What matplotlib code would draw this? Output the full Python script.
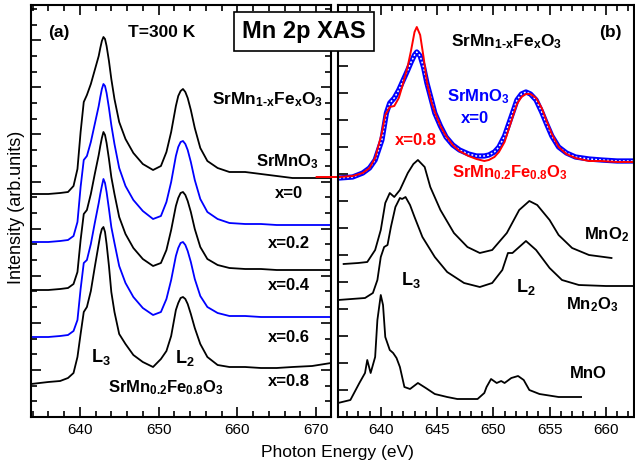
import matplotlib
matplotlib.use("Agg")
import matplotlib.pyplot as plt
from matplotlib.ticker import MultipleLocator

plt.rcParams["font.family"] = ["Liberation Sans", "DejaVu Sans"]
plt.rcParams["mathtext.fontset"] = "custom"
plt.rcParams["mathtext.rm"] = "Liberation Sans:bold"
plt.rcParams["mathtext.it"] = "Liberation Sans:bold"
plt.rcParams["mathtext.bf"] = "Liberation Sans:bold"

# ---- panel (a): SrMn1-xFexO3 series, common energy grid ----
energy_a = [633.8, 636.0, 637.5, 638.5, 639.2, 639.7, 640.1, 640.5, 640.9, 641.4,
            641.9, 642.4, 642.6, 642.8, 643.0, 643.2, 643.4, 643.7, 644.0, 644.4,
            645.0, 645.8, 646.8, 648.0, 649.3, 650.3, 651.0, 651.6, 652.2, 652.5,
            652.8, 653.1, 653.4, 653.7, 654.1, 654.6, 655.3, 656.2, 657.5, 659.0,
            661.0, 663.0, 665.0, 667.0, 669.5, 671.9]

x_labels = ["x=0", "x=0.2", "x=0.4", "x=0.6", "x=0.8"]
offsets_a = [223, 175, 127, 80, 33]
colors_a = ["black", "blue", "black", "blue", "black"]

spec_x00 = [0, 0, 1, 2, 8, 25, 62, 92, 99, 110, 124, 138, 146, 153, 157, 155, 148, 133, 115, 95,
            72, 55, 41, 30, 24, 28, 42, 62, 88, 98, 103, 105, 102, 96, 84, 66, 46, 33, 26, 22,
            22, 20, 18, 16, 16, 16]
spec_x02 = [0, 0, 1, 2, 6, 20, 55, 82, 86, 100, 118, 136, 145, 153, 158, 156, 149, 134, 117, 98,
            74, 56, 42, 31, 23, 26, 40, 60, 86, 95, 100, 101, 98, 92, 80, 62, 43, 30, 23, 19,
            18, 18, 17, 17, 17, 17]
spec_x04 = [0, 0, 1, 2, 6, 18, 50, 76, 80, 96, 116, 135, 144, 152, 158, 155, 147, 131, 113, 96,
            73, 56, 42, 31, 24, 27, 40, 60, 84, 92, 97, 98, 95, 89, 78, 61, 43, 31, 25, 22,
            21, 21, 20, 20, 20, 20]
spec_x06 = [0, 0, 1, 2, 6, 17, 48, 74, 77, 93, 114, 134, 143, 151, 158, 154, 145, 128, 110, 94,
            71, 54, 40, 29, 22, 25, 38, 57, 81, 89, 94, 95, 92, 86, 75, 58, 41, 30, 24, 21,
            21, 20, 20, 20, 20, 20]
spec_x08 = [0, 2, 3, 6, 11, 27, 50, 72, 77, 93, 117, 140, 149, 155, 157, 152, 140, 118, 92, 72,
            50, 40, 29, 22, 17, 25, 33, 48, 74, 81, 86, 87, 85, 80, 70, 56, 40, 27, 19, 17,
            17, 16, 16, 17, 18, 21]
spectra_a = [spec_x00, spec_x02, spec_x04, spec_x06, spec_x08]

# ---- panel (b): SrMnO3 vs x=0.8 and reference oxides ----
energy_smo = [636.3, 637.5, 638.4, 639.0, 639.5, 640.1, 640.5, 640.8, 641.2, 641.6, 642.0,
              642.4, 642.7, 643.0, 643.2, 643.5, 643.8, 644.1, 644.5, 644.8, 645.3, 645.8,
              646.4, 647.0, 647.8, 648.5, 649.2, 649.6, 650.1, 650.5, 651.0, 651.4, 651.8,
              652.1, 652.5, 652.9, 653.3, 653.8, 654.3, 654.7, 655.2, 655.8, 656.5, 657.3,
              658.5, 659.6, 661.0, 662.4]
spec_smo = [0, 1, 5, 10, 18, 38, 65, 75, 80, 88, 98, 108, 116, 123, 126, 122, 111, 95, 78, 65,
            52, 41, 33, 28, 24, 22, 22, 23, 26, 31, 42, 55, 68, 78, 84, 86, 84, 78, 66, 55,
            42, 31, 25, 21, 19, 18, 17, 17]

energy_x08 = [634.3, 636.3, 637.5, 638.4, 639.0, 639.5, 640.1, 640.4, 640.8, 641.2, 641.6,
              642.0, 642.4, 642.7, 643.0, 643.2, 643.5, 643.8, 644.1, 644.5, 644.8, 645.3,
              645.8, 646.4, 647.0, 647.8, 648.5, 649.2, 649.6, 650.1, 650.5, 651.0, 651.4,
              651.8, 652.1, 652.5, 652.9, 653.3, 653.8, 654.3, 654.7, 655.2, 655.8, 656.5,
              657.3, 658.5, 659.6, 661.0, 662.4]
spec_x08b = [1, 1, 2, 5, 10, 20, 45, 63, 71, 72, 80, 95, 112, 128, 146, 151, 143, 121, 96, 76,
             66, 52, 42, 33, 27, 22, 19, 17, 18, 21, 26, 36, 50, 64, 74, 81, 84, 84, 80, 70,
             58, 44, 31, 24, 20, 17, 17, 16, 16]

energy_mno2 = [636.7, 638.0, 638.8, 639.5, 640.0, 640.4, 640.8, 641.2, 641.7, 642.4, 642.9,
               643.3, 643.9, 644.4, 645.3, 646.5, 647.7, 648.8, 649.9, 651.2, 652.3, 653.2,
               653.9, 655.0, 655.8, 657.0, 658.5, 660.5]
spec_mno2 = [0, 1, 2, 14, 34, 61, 71, 67, 74, 91, 100, 104, 97, 77, 54, 31, 17, 11, 14, 31,
             54, 63, 59, 44, 29, 16, 9, 6]

energy_mn2o3 = [636.2, 638.6, 639.3, 639.7, 640.0, 640.3, 640.6, 640.9, 641.1, 641.3, 641.7,
                641.9, 642.2, 642.6, 643.0, 643.7, 644.8, 645.9, 647.4, 648.8, 649.9, 650.8,
                651.3, 651.7, 652.3, 652.9, 653.8, 655.0, 656.1, 657.6, 660.0, 662.5]
spec_mn2o3 = [0, 2, 7, 20, 43, 53, 55, 73, 83, 93, 102, 101, 103, 95, 83, 63, 43, 28, 17, 13,
              17, 30, 47, 47, 53, 59, 50, 32, 20, 15, 14, 14]

energy_mno = [636.2, 637.3, 638.1, 638.6, 638.8, 639.1, 639.5, 639.7, 640.0, 640.2, 640.4,
              640.8, 641.1, 641.4, 641.7, 642.1, 642.6, 643.3, 644.0, 644.8, 645.9, 646.8,
              648.6, 649.2, 649.4, 649.8, 650.3, 650.7, 651.0, 651.6, 652.2, 652.7, 653.2,
              654.1, 655.8, 657.8]
spec_mno = [0, 3, 20, 30, 43, 30, 46, 83, 108, 98, 66, 53, 50, 45, 36, 16, 14, 20, 15, 9, 6, 4,
            4, 10, 16, 24, 20, 22, 20, 25, 27, 23, 13, 9, 6, 6]

offset_top = 239
offsets_ref = [153, 117, 14]

fig = plt.figure(figsize=(6.35, 4.67), dpi=100)
ax1 = fig.add_axes([31 / 635, 50 / 467, 300 / 635, 412 / 467])
ax2 = fig.add_axes([338 / 635, 50 / 467, 296 / 635, 412 / 467])

# panel (a)
for spec, off, col in zip(spectra_a, offsets_a, colors_a):
    ax1.plot(energy_a, [v + off for v in spec], color=col, lw=1.3)

ax1.set_xlim(633.8, 671.9)
ax1.set_ylim(0, 412)
ax1.xaxis.set_major_locator(MultipleLocator(10))
ax1.xaxis.set_minor_locator(MultipleLocator(2))
ax1.yaxis.set_major_locator(MultipleLocator(47.1))
ax1.yaxis.set_minor_locator(MultipleLocator(15.7))
ax1.set_yticklabels([])
ax1.tick_params(which="both", direction="in", top=True, right=True, width=1.2, labelsize=11, pad=4)
ax1.tick_params(which="major", length=7)
ax1.tick_params(which="minor", length=4)

bold = dict(fontweight="bold", ha="center", va="center")
ax1.text(637.33, 385, "(a)", fontsize=12.5, **bold)
ax1.text(650.4, 385, "T=300 K", fontsize=12.5, **bold)
ax1.text(663.8, 317, r"SrMn$_{1\text{-}x}$Fe$_x$O$_3$", fontsize=12.5, **bold)
ax1.text(666.3, 255, r"SrMnO$_3$", fontsize=12, **bold)
for lab, ly in zip(x_labels, [224, 174, 132, 80, 35]):
    ax1.text(666.6, ly, lab, fontsize=12, **bold)
ax1.text(642.7, 60, r"L$_3$", fontsize=13, **bold)
ax1.text(653.3, 59, r"L$_2$", fontsize=13, **bold)
ax1.text(650.9, 29, r"SrMn$_{0.2}$Fe$_{0.8}$O$_3$", fontsize=12, **bold)

# panel (b): dense open circles drawn as a blue band with white holes
smo_y = [v + offset_top for v in spec_smo]
ax2.plot(energy_smo, smo_y, color="blue", lw=3.8, solid_joinstyle="round")
ax2.plot(energy_smo, smo_y, color="white", lw=1.1, dashes=(1.2, 1.4))
ax2.plot(energy_x08, [v + offset_top for v in spec_x08b], color="red", lw=1.4, clip_on=False)
for en, spec, off in zip([energy_mno2, energy_mn2o3, energy_mno],
                         [spec_mno2, spec_mn2o3, spec_mno], offsets_ref):
    ax2.plot(en, [v + off for v in spec], color="black", lw=1.3)

ax2.set_xlim(636.2, 662.5)
ax2.set_ylim(0, 412)
ax2.xaxis.set_major_locator(MultipleLocator(5))
ax2.xaxis.set_minor_locator(MultipleLocator(1))
ax2.yaxis.set_major_locator(MultipleLocator(27))
ax2.set_yticklabels([])
ax2.tick_params(which="both", direction="in", top=True, width=1.2, labelsize=11, pad=4)
ax2.tick_params(which="major", length=7)
ax2.tick_params(which="minor", length=4)

ax2.text(660.4, 385, "(b)", fontsize=12.5, **bold)
ax2.text(651.2, 375, r"SrMn$_{1\text{-}x}$Fe$_x$O$_3$", fontsize=12.5, **bold)
ax2.text(648.7, 320, r"SrMnO$_3$", fontsize=12, color="blue", **bold)
ax2.text(648.4, 299, "x=0", fontsize=12, color="blue", **bold)
ax2.text(643.1, 277, "x=0.8", fontsize=12, color="red", **bold)
ax2.text(651.5, 244, r"SrMn$_{0.2}$Fe$_{0.8}$O$_3$", fontsize=12, color="red", **bold)
ax2.text(660.1, 182, r"MnO$_2$", fontsize=12, **bold)
ax2.text(658.8, 112, r"Mn$_2$O$_3$", fontsize=12, **bold)
ax2.text(658.4, 44, "MnO", fontsize=12, **bold)
ax2.text(642.7, 137, r"L$_3$", fontsize=13, **bold)
ax2.text(652.9, 130, r"L$_2$", fontsize=13, **bold)

for ax in (ax1, ax2):
    for s in ax.spines.values():
        s.set_linewidth(1.5)

fig.text(304 / 635, 1 - 31.5 / 467, "Mn 2p XAS", fontsize=17, fontweight="bold",
         ha="center", va="center",
         bbox=dict(boxstyle="square,pad=0.35", fc="white", ec="black", lw=1.2))
fig.text(17 / 635, 1 - 207 / 467, "Intensity (arb.units)", fontsize=13, rotation=90,
         ha="center", va="center")
fig.text(337 / 635, 1 - 452 / 467, "Photon Energy (eV)", fontsize=12.5, ha="center", va="center")

fig.savefig("out.png", dpi=100)
